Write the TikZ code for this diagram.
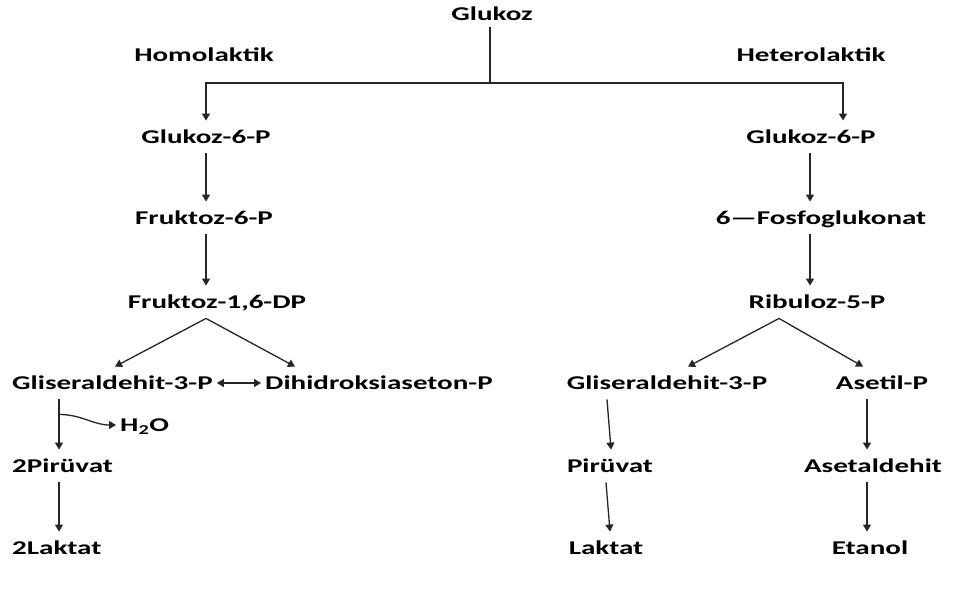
\documentclass[tikz,border=0pt]{standalone}
\usepackage{fontspec}
\setmainfont{Carlito}[FakeStretch=1.49]
\usetikzlibrary{arrows.meta}

\begin{document}
\begin{tikzpicture}[x=1pt, y=-1pt, >={Triangle[length=7pt,width=8pt]}]
    % Define styles for the nodes
    \tikzstyle{step_lbl} = [
        font=\fontsize{19.5}{22}\selectfont\bfseries,
        text height=12.5pt, text depth=0pt, inner xsep=4pt, inner ysep=10pt
    ]
    \tikzstyle{flow} = [->, line width=1.3pt, draw=black!85]

    \useasboundingbox (0,0) rectangle (979,590);

    % Glukoz and the two routes
    \node[step_lbl, inner ysep=7pt] (glukoz) at (492,14) {Glukoz};
    \node[step_lbl] (homo) at (204,55) {Homolaktik};
    \node[step_lbl] (hetero) at (811,55) {Heterolaktik};
    \coordinate (split) at (490,83);

    % Homolaktik route
    \node[step_lbl] (lg6p) at (206,137) {Glukoz-6-P};
    \node[step_lbl] (f6p) at (204,218) {Fruktoz-6-P};
    \node[step_lbl] (f16dp) at (217,302) {Fruktoz-1,6-DP};
    \node[step_lbl, anchor=west] (lgap) at (8,383) {Gliseraldehit-3-P};
    \node[step_lbl, anchor=west] (dhap) at (261,383) {Dihidroksiaseton-P};
    \node[step_lbl, anchor=west] (h2o) at (116,425) {H\textsubscript{2}O};
    \node[step_lbl, anchor=west] (lpir) at (8,466) {2Pirüvat};
    \node[step_lbl, anchor=west] (llak) at (8,548) {2Laktat};

    % Heterolaktik route
    \node[step_lbl] (rg6p) at (811,137) {Glukoz-6-P};
    \node[step_lbl] (fosf) at (821,218) {6---Fosfoglukonat};
    \node[step_lbl] (rib) at (817,302) {Ribuloz-5-P};
    \node[step_lbl] (rgap) at (667,383) {Gliseraldehit-3-P};
    \node[step_lbl] (asp) at (882,383) {Asetil-P};
    \node[step_lbl] (rpir) at (610,466) {Pirüvat};
    \node[step_lbl] (ald) at (873,466) {Asetaldehit};
    \node[step_lbl] (rlak) at (606,548) {Laktat};
    \node[step_lbl] (eta) at (870,548) {Etanol};

    % Split from Glukoz
    \draw[line width=1.3pt, draw=black!85] (split |- glukoz.south) -- (split);
    \draw[flow] (split) -| (lg6p.north);
    \draw[flow] (split) -| ([xshift=32pt]rg6p.north);

    % Arrows, left
    \draw[flow] (lg6p.south) -- (lg6p.south |- f6p.north);
    \draw[flow] (lg6p.south |- f6p.south) -- (lg6p.south |- f16dp.north);
    \draw[flow] ([xshift=-11pt]f16dp.south) -- ([xshift=107pt]lgap.north west);
    \draw[flow] ([xshift=-11pt]f16dp.south) -- ([xshift=34pt]dhap.north west);
    \draw[<->, line width=1.3pt, draw=black!85] (lgap) -- (dhap);
    \draw[flow] ([xshift=51pt]lgap.south west) -- coordinate[pos=0.3] (tap)
        ([xshift=51pt]lpir.north west);
    \draw[flow] (tap) to[out=0, in=180] (h2o.west);
    \draw[flow] ([xshift=51pt]lpir.south west) -- ([xshift=51pt]llak.north west);

    % Arrows, right
    \draw[flow] ([xshift=-1pt]rg6p.south) -- ([xshift=-1pt]rg6p.south |- fosf.north);
    \draw[flow] ([xshift=-1pt]rg6p.south |- fosf.south) -- ([xshift=-1pt]rg6p.south |- rib.north);
    \draw[flow] ([xshift=-38pt]rib.south) -- ([xshift=21pt]rgap.north);
    \draw[flow] ([xshift=-38pt]rib.south) -- ([xshift=-19pt]asp.north);
    \draw[flow] ([xshift=-60pt]rgap.south) -- ([xshift=1pt]rpir.north);
    \draw[flow] ([xshift=-4pt]rpir.south) -- ([xshift=4pt]rlak.north);
    \draw[flow] ([xshift=-15pt]asp.south) -- ([xshift=-6pt]ald.north);
    \draw[flow] ([xshift=-6pt]ald.south) -- ([xshift=-3pt]eta.north);

\end{tikzpicture}
\end{document}
